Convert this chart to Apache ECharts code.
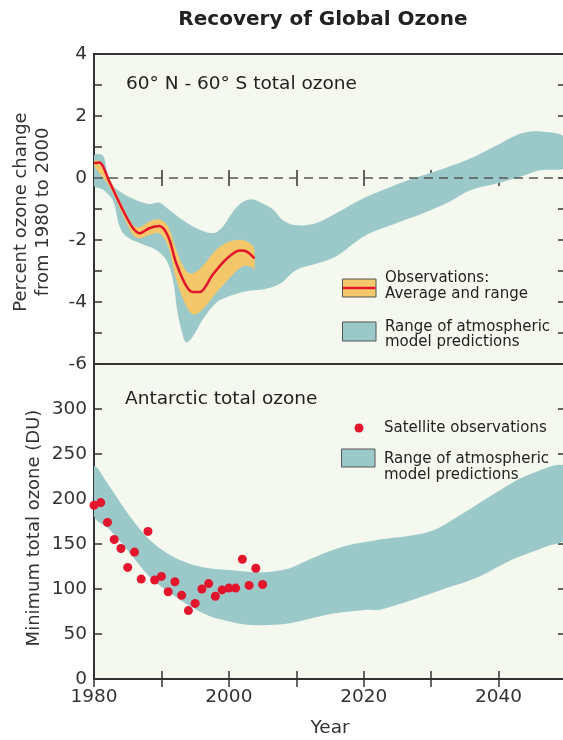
<!DOCTYPE html>
<html>
<head>
<meta charset="utf-8">
<script src="https://cdn.jsdelivr.net/npm/echarts@6/dist/echarts.min.js"></script>
<style>html,body{margin:0;padding:0;background:#fff}#c{width:563px;height:740px}</style>
</head>
<body>
<div id="c"></div>
<script>
// ---------- Data ----------
// Top panel: 60N-60S total ozone, percent change from 1980 to 2000
const modelUpperTop = [[1980.0,0.72],[1981.3,0.73],[1982.0,0.15],[1982.8,-0.24],[1984.3,-0.5],[1986.3,-0.72],[1988.2,-0.84],[1989.7,-0.8],[1991.2,-1.04],[1993.2,-1.36],[1995.2,-1.62],[1997.6,-1.78],[1999.1,-1.57],[2000.6,-1.09],[2002.1,-0.77],[2003.6,-0.69],[2005.0,-0.82],[2006.5,-1.0],[2008.0,-1.36],[2009.9,-1.52],[2012.9,-1.46],[2015.9,-1.14],[2019.9,-0.66],[2023.4,-0.34],[2027.3,-0.02],[2031.8,0.3],[2035.7,0.62],[2039.7,1.05],[2043.1,1.42],[2046.1,1.5],[2050.0,1.28]];
const modelLowerTop = [[1980.0,-0.24],[1981.3,-0.37],[1982.8,-0.72],[1983.8,-1.57],[1984.8,-1.89],[1986.75,-2.1],[1989.2,-2.32],[1990.7,-2.64],[1991.7,-3.28],[1992.4,-4.35],[1993.2,-5.1],[1993.7,-5.31],[1994.7,-5.1],[1996.15,-4.56],[1998.1,-4.03],[2000.1,-3.81],[2002.6,-3.65],[2005.0,-3.6],[2007.5,-3.42],[2009.9,-2.98],[2012.9,-2.77],[2015.9,-2.53],[2018.9,-2.05],[2020.9,-1.78],[2024.8,-1.46],[2028.8,-1.14],[2032.7,-0.77],[2035.7,-0.4],[2039.7,-0.18],[2043.1,0.03],[2046.1,0.25],[2050.0,0.36]];
const obsAverage = [[1980.0,0.48],[1980.8,0.5],[1982.3,-0.13],[1984.3,-1.04],[1985.8,-1.62],[1986.8,-1.78],[1988.2,-1.62],[1989.7,-1.55],[1991.0,-1.89],[1992.2,-2.75],[1993.7,-3.49],[1994.7,-3.68],[1995.7,-3.68],[1997.6,-3.12],[1999.6,-2.62],[2001.6,-2.34],[2002.6,-2.37],[2003.8,-2.59]];
const obsUpper = [[1980.0,0.54],[1980.8,0.54],[1982.3,0.0],[1984.3,-0.93],[1985.8,-1.52],[1986.8,-1.59],[1988.2,-1.41],[1989.7,-1.34],[1991.0,-1.57],[1992.2,-2.32],[1993.7,-3.01],[1994.7,-3.07],[1996.1,-2.85],[1998.1,-2.32],[2000.1,-2.05],[2002.1,-2.0],[2003.6,-2.2],[2003.8,-2.4]];
const obsLower = [[1980.0,0.4],[1982.3,-0.29],[1984.3,-1.2],[1985.8,-1.84],[1986.8,-1.94],[1988.2,-1.84],[1989.7,-1.78],[1991.0,-2.22],[1992.2,-3.28],[1993.7,-4.13],[1994.7,-4.4],[1996.1,-4.24],[1998.1,-3.71],[2000.1,-3.23],[2002.1,-2.85],[2003.6,-2.9],[2003.8,-3.0]];

// Bottom panel: Antarctic minimum total ozone (DU)
const satYears = [1980,1981,1982,1983,1984,1985,1986,1987,1988,1989,1990,1991,1992,1993,1994,1995,1996,1997,1998,1999,2000,2001,2002,2003,2004,2005];
const satValues = [193,196,174,155,145,124,141,111,164,110,114,97,108,93,76,84,100,106,92,99,101,101,133,104,123,105];
const modelUpperBot = [[1980.0,236],[1982.3,214],[1985.3,181],[1988.2,155],[1991.2,138],[1994.2,128],[1997.1,123],[2000.1,121],[2003.1,119],[2006.0,119],[2009.0,123],[2012.0,133],[2014.9,142],[2017.9,149],[2020.9,153],[2022.4,155],[2029.8,164],[2034.7,184],[2039.6,207],[2044.5,227],[2050.0,235]];
const modelLowerBot = [[1980.0,181],[1982.3,166],[1985.3,140],[1988.2,114],[1991.2,96],[1994.2,81],[1997.1,70],[2000.1,64],[2003.1,60],[2006.0,60],[2009.0,62],[2012.0,67],[2014.9,72],[2017.9,75],[2020.9,77],[2022.4,77],[2027.3,88],[2032.3,101],[2037.2,114],[2042.1,133],[2047.0,147],[2050.0,157]];

// Axis tick labels
const yearLabels = [1980, 2000, 2020, 2040];
const topYLabels = [-6, -4, -2, 0, 2, 4];
const botYLabels = [0, 50, 100, 150, 200, 250, 300];

// ---------- Styling ----------
const FONT = 'DejaVu Sans';
const TEAL = '#9bc9c9';
const ORANGE = '#f4c86a';
const RED = '#e2152d';
const PLOTBG = '#f4f8ee';
const INK = '#333';

function bandSeries(upper, lower, color, xi, yi, z) {
  return {
    type: 'custom', xAxisIndex: xi, yAxisIndex: yi, z: z, clip: true, silent: true,
    data: [[upper[0][0], upper[0][1]]],
    renderItem: function (params, api) {
      const pts = upper.map(p => api.coord(p)).concat(lower.slice().reverse().map(p => api.coord(p)));
      return { type: 'polygon', shape: { points: pts, smooth: 0.35 }, style: { fill: color } };
    }
  };
}

function xAxis(grid, pos, labels) {
  return {
    type: 'value', gridIndex: grid, position: pos, min: 1980, max: 2050, interval: 10,
    axisLine: { show: false }, splitLine: { show: false },
    axisTick: { show: true, inside: true, length: 8, lineStyle: { color: INK, width: 1.5 } },
    axisLabel: {
      show: labels, margin: 9, color: INK, fontSize: 18.5, fontFamily: FONT,
      formatter: v => yearLabels.indexOf(v) >= 0 ? String(v) : ''
    }
  };
}
function yAxis(grid, pos, min, max, interval, labelList) {
  return {
    type: 'value', gridIndex: grid, position: pos, min: min, max: max, interval: interval,
    axisLine: { show: false }, splitLine: { show: false },
    axisTick: { show: true, inside: true, length: 8, lineStyle: { color: INK, width: 1.5 } },
    axisLabel: {
      show: !!labelList, margin: 7, color: INK, fontSize: 18.5, fontFamily: FONT,
      formatter: v => (labelList && labelList.indexOf(v) >= 0) ? String(v) : ''
    }
  };
}

const chart = echarts.init(document.getElementById('c'), null, { renderer: 'canvas' });
const option = {
  animation: false,
  backgroundColor: '#ffffff',
  textStyle: { fontFamily: FONT },
  grid: [
    { left: 94, top: 54, width: 472, height: 310, show: true, containLabel: false, outerBoundsMode: 'none', backgroundColor: PLOTBG, borderColor: INK, borderWidth: 2 },
    { left: 94, top: 364, width: 472, height: 315, show: true, containLabel: false, outerBoundsMode: 'none', backgroundColor: PLOTBG, borderColor: INK, borderWidth: 2 }
  ],
  xAxis: [ xAxis(0, 'bottom', false), xAxis(0, 'top', false), xAxis(1, 'bottom', true), xAxis(1, 'top', false) ],
  yAxis: [
    yAxis(0, 'left', -6, 4, 1, topYLabels), yAxis(0, 'right', -6, 4, 1, null),
    yAxis(1, 'left', 0, 350, 50, botYLabels), yAxis(1, 'right', 0, 350, 50, null)
  ],
  series: [
    bandSeries(modelUpperTop, modelLowerTop, TEAL, 0, 0, 1),
    bandSeries(obsUpper, obsLower, ORANGE, 0, 0, 2),
    {
      type: 'line', xAxisIndex: 0, yAxisIndex: 0, z: 3, data: obsAverage, smooth: 0.3,
      showSymbol: false, symbol: 'none', lineStyle: { color: RED, width: 2.5 },
      markLine: {
        silent: true, symbol: 'none', label: { show: false },
        lineStyle: { color: '#555', width: 1.6, type: [9, 6] },
        data: [{ yAxis: 0 }]
      }
    },
    bandSeries(modelUpperBot, modelLowerBot, TEAL, 2, 2, 1),
    {
      type: 'scatter', xAxisIndex: 2, yAxisIndex: 2, z: 4, clip: false,
      data: satYears.map((y, i) => [y, satValues[i]]),
      symbolSize: 9, itemStyle: { color: RED, opacity: 1 }
    }
  ],
  graphic: [
    { type: 'text', x: 323, y: 20, style: { text: 'Recovery of Global Ozone', font: 'bold 20px "DejaVu Sans"', fill: '#222', textAlign: 'center', textVerticalAlign: 'middle' } },
    { type: 'text', x: 126, y: 84, style: { text: '60° N - 60° S total ozone', font: '18.5px "DejaVu Sans"', fill: '#222', textAlign: 'left', textVerticalAlign: 'middle' } },
    { type: 'text', x: 125, y: 399, style: { text: 'Antarctic total ozone', font: '18.5px "DejaVu Sans"', fill: '#222', textAlign: 'left', textVerticalAlign: 'middle' } },
    { type: 'text', x: 21, y: 212, rotation: Math.PI / 2, style: { text: 'Percent ozone change', font: '18px "DejaVu Sans"', fill: INK, textAlign: 'center', textVerticalAlign: 'middle' } },
    { type: 'text', x: 43, y: 212, rotation: Math.PI / 2, style: { text: 'from 1980 to 2000', font: '18px "DejaVu Sans"', fill: INK, textAlign: 'center', textVerticalAlign: 'middle' } },
    { type: 'text', x: 34, y: 528, rotation: Math.PI / 2, style: { text: 'Minimum total ozone (DU)', font: '18px "DejaVu Sans"', fill: INK, textAlign: 'center', textVerticalAlign: 'middle' } },
    { type: 'text', x: 330, y: 728, style: { text: 'Year', font: '18.5px "DejaVu Sans"', fill: INK, textAlign: 'center', textVerticalAlign: 'middle' } },
    // top legend
    { type: 'rect', shape: { x: 342.5, y: 279, width: 33.5, height: 18 }, style: { fill: ORANGE, stroke: '#555', lineWidth: 1 }, z: 10 },
    { type: 'line', shape: { x1: 343, y1: 288, x2: 375.5, y2: 288 }, style: { stroke: RED, lineWidth: 2.5 }, z: 11 },
    { type: 'text', x: 385, y: 278, style: { text: 'Observations:', font: '15px "DejaVu Sans"', fill: '#222', textAlign: 'left', textVerticalAlign: 'middle' }, z: 10 },
    { type: 'text', x: 385, y: 294, style: { text: 'Average and range', font: '15px "DejaVu Sans"', fill: '#222', textAlign: 'left', textVerticalAlign: 'middle' }, z: 10 },
    { type: 'rect', shape: { x: 342.5, y: 322, width: 33.5, height: 19 }, style: { fill: TEAL, stroke: '#555', lineWidth: 1 }, z: 10 },
    { type: 'text', x: 385, y: 327, style: { text: 'Range of atmospheric', font: '15px "DejaVu Sans"', fill: '#222', textAlign: 'left', textVerticalAlign: 'middle' }, z: 10 },
    { type: 'text', x: 385, y: 342, style: { text: 'model predictions', font: '15px "DejaVu Sans"', fill: '#222', textAlign: 'left', textVerticalAlign: 'middle' }, z: 10 },
    // bottom legend
    { type: 'circle', shape: { cx: 359, cy: 428, r: 4.5 }, style: { fill: RED }, z: 10 },
    { type: 'text', x: 384, y: 428, style: { text: 'Satellite observations', font: '15px "DejaVu Sans"', fill: '#222', textAlign: 'left', textVerticalAlign: 'middle' }, z: 10 },
    { type: 'rect', shape: { x: 341.5, y: 449, width: 33.5, height: 18 }, style: { fill: TEAL, stroke: '#555', lineWidth: 1 }, z: 10 },
    { type: 'text', x: 384, y: 459, style: { text: 'Range of atmospheric', font: '15px "DejaVu Sans"', fill: '#222', textAlign: 'left', textVerticalAlign: 'middle' }, z: 10 },
    { type: 'text', x: 384, y: 475, style: { text: 'model predictions', font: '15px "DejaVu Sans"', fill: '#222', textAlign: 'left', textVerticalAlign: 'middle' }, z: 10 }
  ]
};
chart.setOption(option);
</script>
</body>
</html>
